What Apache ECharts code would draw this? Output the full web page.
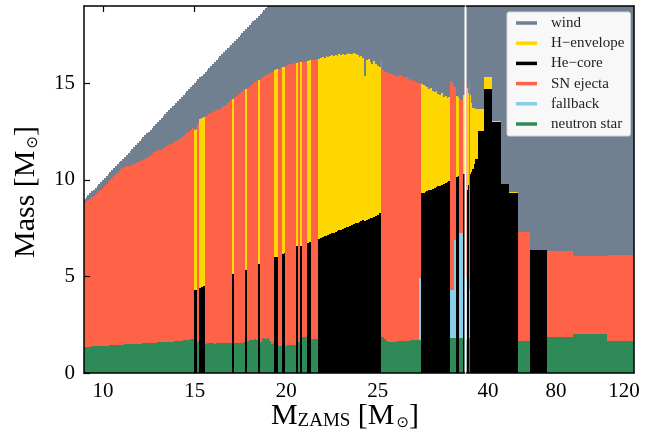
<!DOCTYPE html>
<html><head><meta charset="utf-8">
<script src="https://cdn.jsdelivr.net/npm/echarts@6/dist/echarts.min.js"></script>
<style>html,body{margin:0;padding:0;background:#fff}#c{width:646px;height:434px}</style>
</head><body><div id="c"></div>
<script>
// ZAMS masses of the models
const masses = [
  9.0,9.1,9.2,9.3,9.4,9.5,9.6,9.7,9.8,9.9,
  10.0,10.1,10.2,10.3,10.4,10.5,10.6,10.7,10.8,10.9,
  11.0,11.1,11.2,11.3,11.4,11.5,11.6,11.7,11.8,11.9,
  12.0,12.1,12.2,12.3,12.4,12.5,12.6,12.7,12.8,12.9,
  13.0,13.1,13.2,13.3,13.4,13.5,13.6,13.7,13.8,13.9,
  14.0,14.1,14.2,14.3,14.4,14.5,14.6,14.7,14.8,14.9,
  15.0,15.1,15.2,15.3,15.4,15.5,15.6,15.7,15.8,15.9,
  16.0,16.1,16.2,16.3,16.4,16.5,16.6,16.7,16.8,16.9,
  17.0,17.1,17.2,17.3,17.4,17.5,17.6,17.7,17.8,17.9,
  18.0,18.1,18.2,18.3,18.4,18.5,18.6,18.7,18.8,18.9,
  19.0,19.1,19.2,19.3,19.4,19.5,19.6,19.7,19.8,19.9,
  20.0,20.1,20.2,20.3,20.4,20.5,20.6,20.7,20.8,20.9,
  21.0,21.1,21.2,21.3,21.4,21.5,21.6,21.7,21.8,21.9,
  22.0,22.1,22.2,22.3,22.4,22.5,22.6,22.7,22.8,22.9,
  23.0,23.1,23.2,23.3,23.4,23.5,23.6,23.7,23.8,23.9,
  24.0,24.1,24.2,24.3,24.4,24.5,24.6,24.7,24.8,24.9,
  25.0,25.1,25.2,25.3,25.4,25.5,25.6,25.7,25.8,25.9,
  26.0,26.1,26.2,26.3,26.4,26.5,26.6,26.7,26.8,26.9,
  27.0,27.1,27.2,27.3,27.4,27.5,27.6,27.7,27.8,27.9,
  28.0,28.1,28.2,28.3,28.4,28.5,28.6,28.7,28.8,28.9,
  29.0,29.1,29.2,29.3,29.4,29.5,29.6,29.7,29.8,29.9,
  30.0,31,32,33,35,40,45,50,55,60,70,80,100,120
];
// E = exploded (neutron star), B = failed (black hole)
const outcome = [
  "EEEEEEEEEE","EEEEEEEEEE","EEEEEEEEEE","EEEEEEEEEE","EEEEEEEEEE","EEEEEEEEEE",
  "BBEBBBEEEE","EEEEEEEEEE","EBEEEEEEBE","EEEEEBEEEE","EEEEBBEEBB","EEEEEEBEBE",
  "EEBBEEEEBB","BBBBBBBBBB","BBBBBBBBBB","BBBBBBBBBB","BBEEEEEEEE","EEEEEEEEEE",
  "EEEEBBBBBB","BBBBBBBBBB","EEEBBEEBBB","B","BBBBBBBBEBEEE"
].join("").split("");
// pre-supernova (final) mass: top of the coloured column
const preSN = [
  8.8,8.88,8.95,9.02,9.1,9.18,9.26,9.34,9.42,9.5,
  9.58,9.68,9.78,9.88,9.98,10.08,10.18,10.28,10.38,10.46,
  10.55,10.6,10.65,10.7,10.72,10.75,10.78,10.8,10.85,10.9,
  10.95,11.0,11.05,11.1,11.15,11.2,11.28,11.35,11.42,11.48,
  11.52,11.56,11.6,11.65,11.7,11.75,11.8,11.86,11.92,11.98,
  12.03,12.08,12.14,12.2,12.27,12.35,12.42,12.5,12.6,12.7,
  12.6,12.65,12.9,13.15,13.2,13.25,13.3,13.35,13.4,13.45,
  13.5,13.55,13.6,13.62,13.66,13.75,13.82,13.9,13.97,14.05,
  14.12,14.2,14.27,14.35,14.42,14.5,14.57,14.64,14.7,14.77,
  14.84,14.9,14.97,15.04,15.1,15.17,15.23,15.3,15.36,15.42,
  15.48,15.53,15.57,15.6,15.7,15.72,15.76,15.8,15.83,15.86,
  15.9,15.95,15.98,16.0,16.02,16.05,16.05,16.08,16.1,16.12,
  16.12,16.15,16.15,16.18,16.2,16.2,16.22,16.25,16.28,16.3,
  16.35,16.3,16.4,16.35,16.4,16.45,16.4,16.45,16.4,16.5,
  16.45,16.5,16.45,16.5,16.55,16.5,16.5,16.55,16.5,16.45,
  16.35,16.4,16.3,15.4,16.2,16.25,16.1,16.0,16.15,16.0,
  15.9,15.85,16.2,15.7,15.6,15.6,15.55,15.5,15.5,15.45,
  15.4,15.3,15.45,15.4,15.2,15.3,15.35,15.2,15.15,15.1,
  15.15,15.05,15.0,15.0,14.95,14.9,14.85,14.8,14.7,14.75,
  14.6,14.55,14.6,14.45,14.4,14.5,14.3,14.35,14.25,14.3,
  15.1,15.0,14.8,14.35,14.3,14.2,14.15,14.4,14.5,14.3,
  14.0,13.7,13.7,13.65,13.65,15.35,13.05,9.8,9.36,7.28,6.38,6.33,6.04,6.12
];
// neutron-star mass (exploded) or He-core mass (black hole)
const coreMass = [
  1.36,1.36,1.37,1.37,1.38,1.38,1.39,1.39,1.40,1.40,
  1.41,1.41,1.42,1.42,1.43,1.43,1.44,1.45,1.45,1.46,
  1.47,1.47,1.48,1.49,1.50,1.52,1.52,1.51,1.50,1.50,
  1.51,1.52,1.53,1.54,1.55,1.56,1.55,1.56,1.57,1.57,
  1.58,1.58,1.59,1.60,1.60,1.61,1.62,1.62,1.63,1.64,
  1.65,1.66,1.67,1.68,1.69,1.70,1.71,1.72,1.74,1.75,
  4.30,4.32,1.60,4.40,4.45,4.50,1.52,1.53,1.54,1.56,
  1.53,1.52,1.53,1.54,1.55,1.53,1.54,1.55,1.56,1.55,
  1.56,5.10,1.55,1.56,1.55,1.57,1.56,1.58,5.35,1.68,
  1.70,1.72,1.70,1.74,1.72,5.65,1.58,1.74,1.80,1.78,
  1.80,1.66,1.50,1.62,5.98,6.02,1.40,1.38,6.15,6.20,
  1.42,1.45,1.44,1.43,1.46,1.45,6.55,1.60,6.60,1.85,
  1.88,1.86,6.72,6.78,1.78,1.75,1.76,1.74,6.95,6.99,
  7.03,7.07,7.11,7.15,7.19,7.23,7.27,7.31,7.35,7.39,
  7.42,7.46,7.50,7.54,7.58,7.62,7.66,7.70,7.74,7.78,
  7.82,7.86,7.90,7.88,7.92,7.96,8.00,8.04,8.08,8.12,
  8.20,8.28,1.88,1.85,1.75,1.65,1.62,1.60,1.62,1.63,
  1.62,1.64,1.65,1.66,1.66,1.67,1.68,1.68,1.69,1.70,
  1.70,1.70,1.70,1.71,9.30,9.34,9.38,9.42,9.47,9.50,
  9.55,9.58,9.62,9.67,9.70,9.75,9.80,9.84,9.88,9.93,
  1.80,1.80,1.82,10.15,10.20,1.80,1.80,10.30,10.35,10.38,
  10.42,10.55,10.8,11.1,12.52,14.7,13.0,9.78,9.34,1.66,6.36,1.85,2.0,1.66
];
// fallback mass for the few models that have it
const fallbackMasses = [27.3, 29.0, 29.1, 29.2, 29.5, 29.6];
const fallbackValues = [3.2, 2.5, 2.5, 5.08, 5.45, 5.45];

const xTicksLeft = [10, 15, 20, 25];
const xTicksRight = [40, 80, 120];
const yTicks = [0, 5, 10, 15];
const seriesNames = ['wind', 'H\u2212envelope', 'He\u2212core', 'SN ejecta', 'fallback', 'neutron star'];
const seriesColors = ['#708090', '#FFD700', '#000000', '#FF6347', '#87CEEB', '#2E8B57'];

// ---- build segments ----
const n = masses.length;
const fbMap = {};
fallbackMasses.forEach((m, i) => { fbMap[m.toFixed(1)] = fallbackValues[i]; });
const segs = seriesNames.map(() => []);
masses.forEach((m, i) => {
  const lo = i > 0 ? (masses[i - 1] + m) / 2 : m - (masses[1] - m) / 2;
  const hi = i < n - 1 ? (m + masses[i + 1]) / 2 : m + (m - masses[i - 1]) / 2;
  const fin = preSN[i], c = coreMass[i];
  segs[0].push([lo, hi, fin, m]);
  if (outcome[i] === 'B') {
    segs[2].push([lo, hi, 0, c]);
    if (fin > c) segs[1].push([lo, hi, c, fin]);
  } else {
    const f = fbMap[m.toFixed(1)] || 0;
    segs[5].push([lo, hi, 0, c]);
    if (f) segs[4].push([lo, hi, c, c + f]);
    segs[3].push([lo, hi, c + f, fin]);
  }
});

function renderItem(params, api) {
  const p0 = api.coord([api.value(0), api.value(3)]);
  const p1 = api.coord([api.value(1), api.value(2)]);
  const cs = params.coordSys;
  const x0 = Math.round(p0[0]), x1 = Math.round(p1[0]);
  const y0 = Math.round(p0[1]), y1 = Math.round(p1[1]);
  if (x1 <= x0 || y1 <= y0) return;
  const rect = echarts.graphic.clipRectByRect(
    { x: x0, y: y0, width: x1 - x0, height: y1 - y0 },
    { x: cs.x, y: cs.y, width: cs.width, height: cs.height });
  if (!rect) return;
  return { type: 'rect', shape: rect, style: { fill: api.visual('color') } };
}

const series = [];
[0, 1].forEach(g => {
  seriesNames.forEach((name, k) => {
    series.push({
      type: 'custom', name: name, xAxisIndex: g, yAxisIndex: g,
      renderItem: renderItem, data: segs[k], encode: { x: [0, 1], y: [2, 3] },
      itemStyle: { color: seriesColors[k] }, silent: true, animation: false
    });
  });
});

const FONT = 'Liberation Serif, DejaVu Serif, serif';
const spine = { show: true, lineStyle: { color: '#000', width: 1.5 } };
const tickLabel = { color: '#000', fontFamily: FONT, fontSize: 21 };

const chart = echarts.init(document.getElementById('c'), null, { renderer: 'canvas' });
chart.setOption({
  animation: false,
  backgroundColor: '#ffffff',
  grid: [
    { left: 84, top: 6, width: 380.5, height: 367, outerBoundsMode: 'none', containLabel: false },
    { left: 466.5, top: 6, width: 167.5, height: 367, outerBoundsMode: 'none', containLabel: false }
  ],
  xAxis: [
    { gridIndex: 0, type: 'value', position: 'bottom', min: 8.96, max: 29.73, z: 5,
      axisLine: spine, axisTick: { show: false }, splitLine: { show: false },
      axisLabel: Object.assign({ customValues: xTicksLeft, margin: 8 }, tickLabel) },
    { gridIndex: 1, type: 'value', position: 'bottom', min: 27.35, max: 125.9, z: 5,
      axisLine: spine, axisTick: { show: false }, splitLine: { show: false },
      axisLabel: Object.assign({ customValues: xTicksRight, margin: 8 }, tickLabel) },
    { gridIndex: 0, type: 'value', position: 'top', min: 8.96, max: 29.73, z: 5,
      axisLine: spine, axisTick: { show: false }, axisLabel: { show: false }, splitLine: { show: false } },
    { gridIndex: 1, type: 'value', position: 'top', min: 27.35, max: 125.9, z: 5,
      axisLine: spine, axisTick: { show: false }, axisLabel: { show: false }, splitLine: { show: false } },
    { gridIndex: 0, type: 'value', position: 'top', min: 8.96, max: 29.73, z: 0,
      axisLine: { show: false }, axisLabel: { show: false }, splitLine: { show: false },
      axisTick: { show: true, inside: true, length: 6, customValues: xTicksLeft, lineStyle: { color: '#000', width: 1.2 } } }
  ],
  yAxis: [
    { gridIndex: 0, type: 'value', position: 'left', min: 0, max: 19, z: 5,
      axisLine: spine, splitLine: { show: false },
      axisTick: { show: true, inside: true, length: 6, customValues: yTicks, lineStyle: { color: '#000', width: 1.2 } },
      axisLabel: Object.assign({ customValues: yTicks, margin: 9 }, tickLabel) },
    { gridIndex: 1, type: 'value', position: 'right', min: 0, max: 19, z: 5,
      axisLine: spine, splitLine: { show: false }, axisTick: { show: false }, axisLabel: { show: false } }
  ],
  legend: {
    data: seriesNames, orient: 'vertical', left: 507, top: 12,
    padding: [3, 6, 4, 9], itemGap: 4.2, itemWidth: 21, itemHeight: 3.5, icon: 'rect',
    backgroundColor: '#f8f8f8', borderColor: '#d4d4d4', borderWidth: 1, borderRadius: 2,
    selectedMode: false,
    textStyle: { fontFamily: FONT, fontSize: 15, color: '#222', lineHeight: 16, padding: [0, 0, 0, 9] }
  },
  graphic: [
    { type: 'text', x: 345, y: 416, silent: true,
      style: { text: '{m|M}{z|ZAMS}{m| [M}{s|\u2299}{m|]}', textAlign: 'center', textVerticalAlign: 'middle',
        align: 'center', verticalAlign: 'middle', fill: '#000',
        rich: {
          m: { fontFamily: FONT, fontSize: 30, lineHeight: 30, verticalAlign: 'top', fill: '#000' },
          z: { fontFamily: FONT, fontSize: 19, lineHeight: 20, padding: [13, 0, 0, 0], verticalAlign: 'bottom', fill: '#000' },
          s: { fontFamily: 'DejaVu Sans', fontSize: 15, lineHeight: 16, padding: [20, 0, 0, 2], verticalAlign: 'bottom', fill: '#000' }
        } } },
    { type: 'text', x: 26, y: 192, rotation: Math.PI / 2, silent: true,
      style: { text: '{m|Mass [M}{s|\u2299}{m|]}', textAlign: 'center', textVerticalAlign: 'middle',
        align: 'center', verticalAlign: 'middle', fill: '#000',
        rich: {
          m: { fontFamily: FONT, fontSize: 30, lineHeight: 30, verticalAlign: 'top', fill: '#000' },
          s: { fontFamily: 'DejaVu Sans', fontSize: 15, lineHeight: 16, padding: [20, 0, 0, 2], verticalAlign: 'bottom', fill: '#000' }
        } } }
  ],
  series: series
});
</script></body></html>
